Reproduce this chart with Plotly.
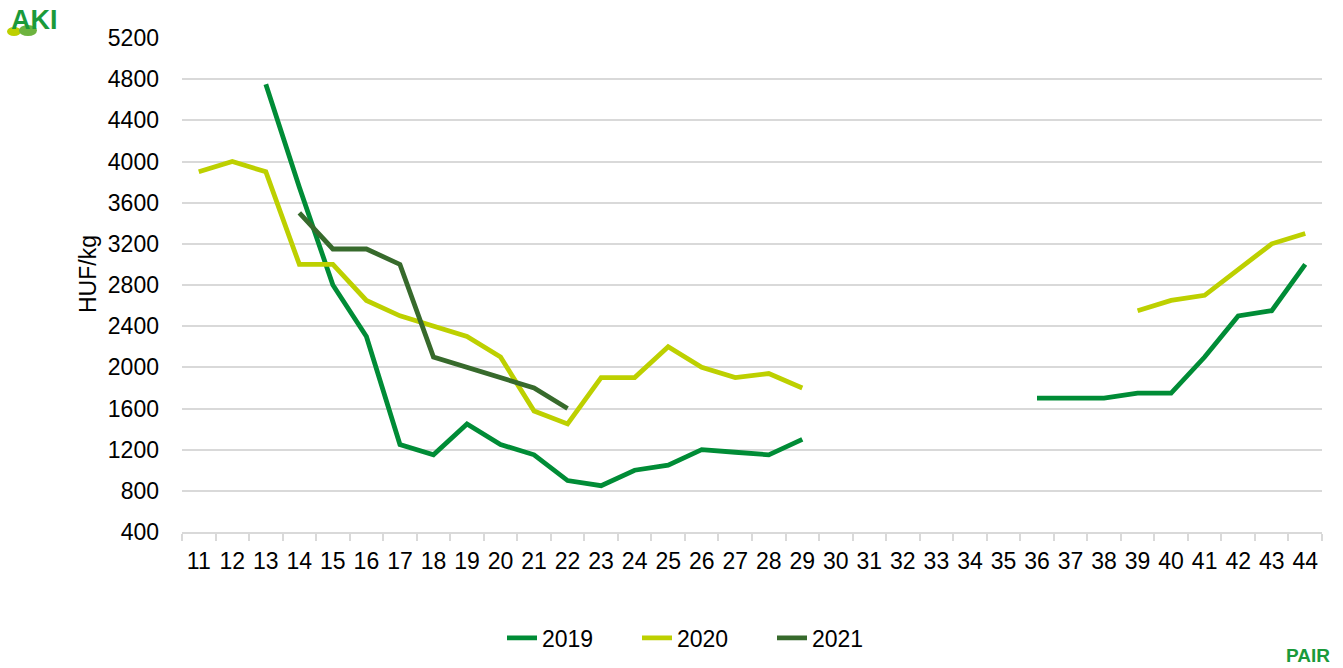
import plotly.graph_objects as go

weeks = [str(w) for w in range(11, 45)]

v2019 = [None, None, 4750, 3750, 2800, 2300, 1250, 1150, 1450, 1250, 1150, 900, 850, 1000, 1050,
         1200, 1175, 1150, 1300, None, None, None, None, None, None, 1700, 1700, 1700, 1750, 1750,
         2100, 2500, 2550, 3000]
v2020 = [3900, 4000, 3900, 3000, 3000, 2650, 2500, 2400, 2300, 2100, 1575, 1450, 1900, 1900, 2200,
         2000, 1900, 1940, 1800, None, None, None, None, None, None, None, None, None, 2550, 2650,
         2700, 2950, 3200, 3300]
v2021 = [None, None, None, 3500, 3150, 3150, 3000, 2100, 2000, 1900, 1800, 1600] + [None] * 22

series = [("2019", v2019, "#008C36"), ("2020", v2020, "#BDD000"), ("2021", v2021, "#376A2C")]

FONT = "Liberation Sans, Arial, sans-serif"
FS = 23
L, R, T, B = 182, 21, 38, 136
PW, PH = 1343 - L - R, 668 - T - B


def px(x):
    return (x - L) / PW


def py(y):
    return (668 - B - y) / PH


fig = go.Figure()
for name, vals, col in series:
    fig.add_trace(go.Scatter(x=weeks, y=vals, name=name, mode="lines",
                             line=dict(color=col, width=4.8), connectgaps=False))

fig.update_layout(
    width=1343, height=668,
    margin=dict(l=L, r=R, t=T, b=B, autoexpand=False),
    plot_bgcolor="white", paper_bgcolor="white",
    font=dict(family=FONT, size=FS, color="#000000"),
    showlegend=True,
    legend=dict(orientation="h", xanchor="left", x=px(502), yanchor="middle", y=py(638),
                font=dict(size=FS), entrywidth=90, entrywidthmode="pixels",
                itemwidth=30, tracegroupgap=0),
    xaxis=dict(type="category", categoryorder="array", categoryarray=weeks,
               range=[-0.5, len(weeks) - 0.5], autorange=False,
               showgrid=False, showline=True, linecolor="#D9D9D9", linewidth=1.5,
               ticks="outside", tickson="boundaries", ticklen=7, tickcolor="#D9D9D9",
               tickwidth=1.5, ticklabelstandoff=8, tickangle=0, tickfont=dict(size=FS),
               automargin=False),
    yaxis=dict(range=[400, 5200], dtick=400, tick0=400, showgrid=True, gridcolor="#D9D9D9",
               gridwidth=1.5, zeroline=False, showline=False, ticks="",
               ticklabelstandoff=22, tickfont=dict(size=FS), automargin=False),
    annotations=[
        dict(text="HUF/kg", textangle=-90, xref="paper", yref="paper",
             x=px(88), y=py(274), xanchor="center", yanchor="middle",
             showarrow=False, font=dict(size=FS, family=FONT)),
        dict(text="<b>AKI</b>", xref="paper", yref="paper",
             x=px(34), y=py(20), xanchor="center", yanchor="middle",
             showarrow=False, font=dict(size=27, family=FONT, color="#1A9A3A")),
        dict(text="<b>PAIR</b>", xref="paper", yref="paper",
             x=px(1308), y=py(655), xanchor="center", yanchor="middle",
             showarrow=False, font=dict(size=19, family=FONT, color="#1A9A3A")),
    ],
    shapes=[
        dict(type="circle", xref="paper", yref="paper",
             x0=px(7), x1=px(21), y0=py(36), y1=py(27),
             fillcolor="#BDD000", line=dict(width=0), layer="above"),
        dict(type="circle", xref="paper", yref="paper",
             x0=px(19), x1=px(37), y0=py(36), y1=py(25),
             fillcolor="#6DB33F", line=dict(width=0), layer="above"),
    ],
)

fig.write_html("out.html", config={"displayModeBar": False},
               post_script="document.body.style.margin='0px';")
